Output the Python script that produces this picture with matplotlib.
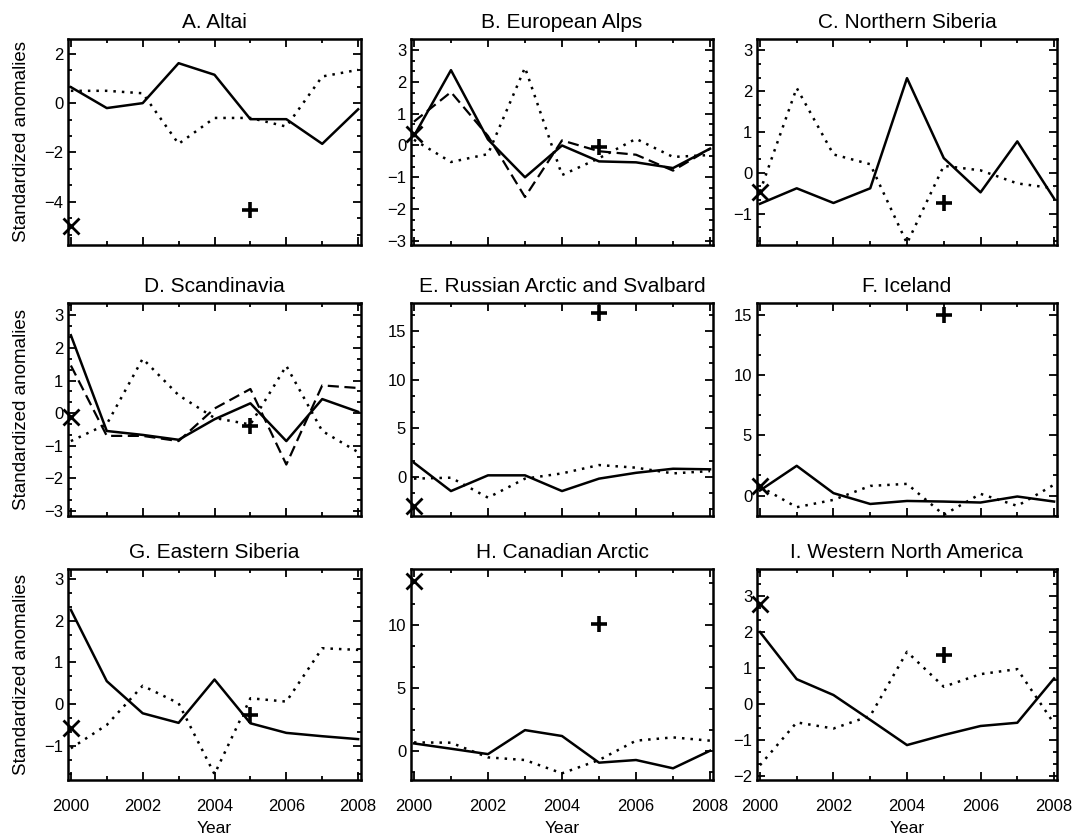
import numpy as np
import matplotlib
matplotlib.use("Agg")
import matplotlib.pyplot as plt
from matplotlib.ticker import MultipleLocator

plt.rcParams['font.family'] = ['Liberation Sans', 'DejaVu Sans']

years = np.arange(2000, 2009)

titles = ["A. Altai", "B. European Alps", "C. Northern Siberia",
          "D. Scandinavia", "E. Russian Arctic and Svalbard", "F. Iceland",
          "G. Eastern Siberia", "H. Canadian Arctic", "I. Western North America"]

# solid series per region
solid_a = [0.65, -0.2, 0.0, 1.62, 1.15, -0.65, -0.65, -1.65, -0.25]
solid_b = [0.3, 2.37, 0.19, -1.0, 0.0, -0.5, -0.53, -0.71, -0.1]
solid_c = [-0.76, -0.38, -0.74, -0.38, 2.32, 0.36, -0.48, 0.77, -0.63]
solid_d = [2.39, -0.55, -0.67, -0.82, -0.19, 0.3, -0.86, 0.43, 0.04]
solid_e = [1.44, -1.48, 0.14, 0.14, -1.48, -0.2, 0.4, 0.82, 0.76]
solid_f = [0.42, 2.47, 0.2, -0.7, -0.45, -0.5, -0.58, -0.08, -0.5]
solid_g = [2.26, 0.55, -0.22, -0.45, 0.59, -0.46, -0.69, -0.77, -0.84]
solid_h = [0.58, 0.16, -0.27, 1.64, 1.17, -0.95, -0.74, -1.4, 0.0]
solid_i = [2.0, 0.69, 0.25, -0.44, -1.14, -0.86, -0.61, -0.52, 0.71]

# dotted series per region
dotted_a = [0.5, 0.5, 0.4, -1.65, -0.6, -0.6, -0.95, 1.08, 1.35]
dotted_b = [0.18, -0.52, -0.27, 2.45, -0.93, -0.4, 0.21, -0.36, -0.3]
dotted_c = [-0.46, 2.08, 0.45, 0.21, -1.73, 0.17, 0.06, -0.26, -0.38]
dotted_d = [-0.86, -0.34, 1.67, 0.55, -0.15, -0.35, 1.45, -0.55, -1.2]
dotted_e = [-0.2, -0.1, -2.16, -0.2, 0.34, 1.2, 0.93, 0.34, 0.58]
dotted_f = [0.75, -0.97, -0.36, 0.8, 0.97, -1.6, 0.14, -0.86, 0.9]
dotted_g = [-1.06, -0.5, 0.44, 0.02, -1.68, 0.14, 0.06, 1.34, 1.3]
dotted_h = [0.66, 0.64, -0.53, -0.74, -1.8, -0.74, 0.8, 1.06, 0.8]
dotted_i = [-1.7, -0.51, -0.68, -0.33, 1.45, 0.48, 0.83, 0.97, -0.54]

# dashed series (only Alps and Scandinavia)
dashed_b = [0.75, 1.68, 0.3, -1.62, 0.16, -0.18, -0.29, -0.79, -0.1]
dashed_d = [1.46, -0.7, -0.7, -0.86, 0.14, 0.74, -1.58, 0.85, 0.77]

# single-point markers: x at 2000, + at 2005
cross_vals = [-5.0, 0.35, -0.46, -0.13, -3.0, 0.8, -0.58, 13.5, 2.78]
plus_vals = [-4.35, -0.05, -0.74, -0.39, 16.9, 15.0, -0.26, 10.1, 1.36]

solids = [solid_a, solid_b, solid_c, solid_d, solid_e, solid_f, solid_g, solid_h, solid_i]
dotteds = [dotted_a, dotted_b, dotted_c, dotted_d, dotted_e, dotted_f, dotted_g, dotted_h, dotted_i]
dasheds = [None, dashed_b, None, dashed_d, None, None, None, None, None]

ylims = [(-5.75, 2.6), (-3.13, 3.35), (-1.77, 3.28),
         (-3.16, 3.38), (-4.05, 17.9), (-1.7, 16.0),
         (-1.82, 3.24), (-2.33, 14.46), (-2.11, 3.75)]
ymajor = [2, 1, 1, 1, 5, 5, 1, 5, 1]

# panel boxes in pixels: (x0, x1) per column, (y0, y1) per row, measured from the top
W, H = 1073, 838
cols = [(68, 361), (411, 713), (757, 1057)]
rows = [(39, 245), (303, 516), (569, 780)]

fig = plt.figure(figsize=(W / 100, H / 100), dpi=100)

for k in range(9):
    r, c = divmod(k, 3)
    x0, x1 = cols[c]
    y0, y1 = rows[r]
    ax = fig.add_axes([x0 / W, 1 - y1 / H, (x1 - x0) / W, (y1 - y0) / H])

    ax.plot(years, solids[k], color='black', lw=1.8, ls='-')
    ax.plot(years, dotteds[k], color='black', lw=1.8, ls=(0, (1, 2.4)))
    if dasheds[k] is not None:
        ax.plot(years, dasheds[k], color='black', lw=1.6, ls=(0, (5, 2.5)))
    ax.plot([2000], [cross_vals[k]], marker='x', color='black', ms=11, mew=2,
            ls='none', clip_on=False)
    ax.plot([2005], [plus_vals[k]], marker='+', color='black', ms=12, mew=2.6,
            ls='none', clip_on=False)

    ax.set_xlim(1999.92, 2008.08)
    ax.set_ylim(*ylims[k])
    ax.xaxis.set_major_locator(MultipleLocator(2))
    ax.xaxis.set_minor_locator(MultipleLocator(1))
    ax.yaxis.set_major_locator(MultipleLocator(ymajor[k]))
    ax.yaxis.set_minor_locator(MultipleLocator(ymajor[k] / 3))
    ax.tick_params(which='both', direction='in', top=True, right=True,
                   width=1.3, labelsize=12)
    ax.tick_params(which='major', length=6)
    ax.tick_params(which='minor', length=3)
    for s in ax.spines.values():
        s.set_linewidth(1.8)

    ax.set_title(titles[k], fontsize=15, pad=8)
    if r < 2:
        ax.set_xticklabels([])
    else:
        ax.tick_params(axis='x', pad=14)
        ax.set_xlabel("Year", fontsize=12.5, labelpad=5)
    if c == 0:
        ax.set_ylabel("Standardized anomalies", fontsize=13.5, labelpad=10)

fig.savefig("out.png", dpi=100)
